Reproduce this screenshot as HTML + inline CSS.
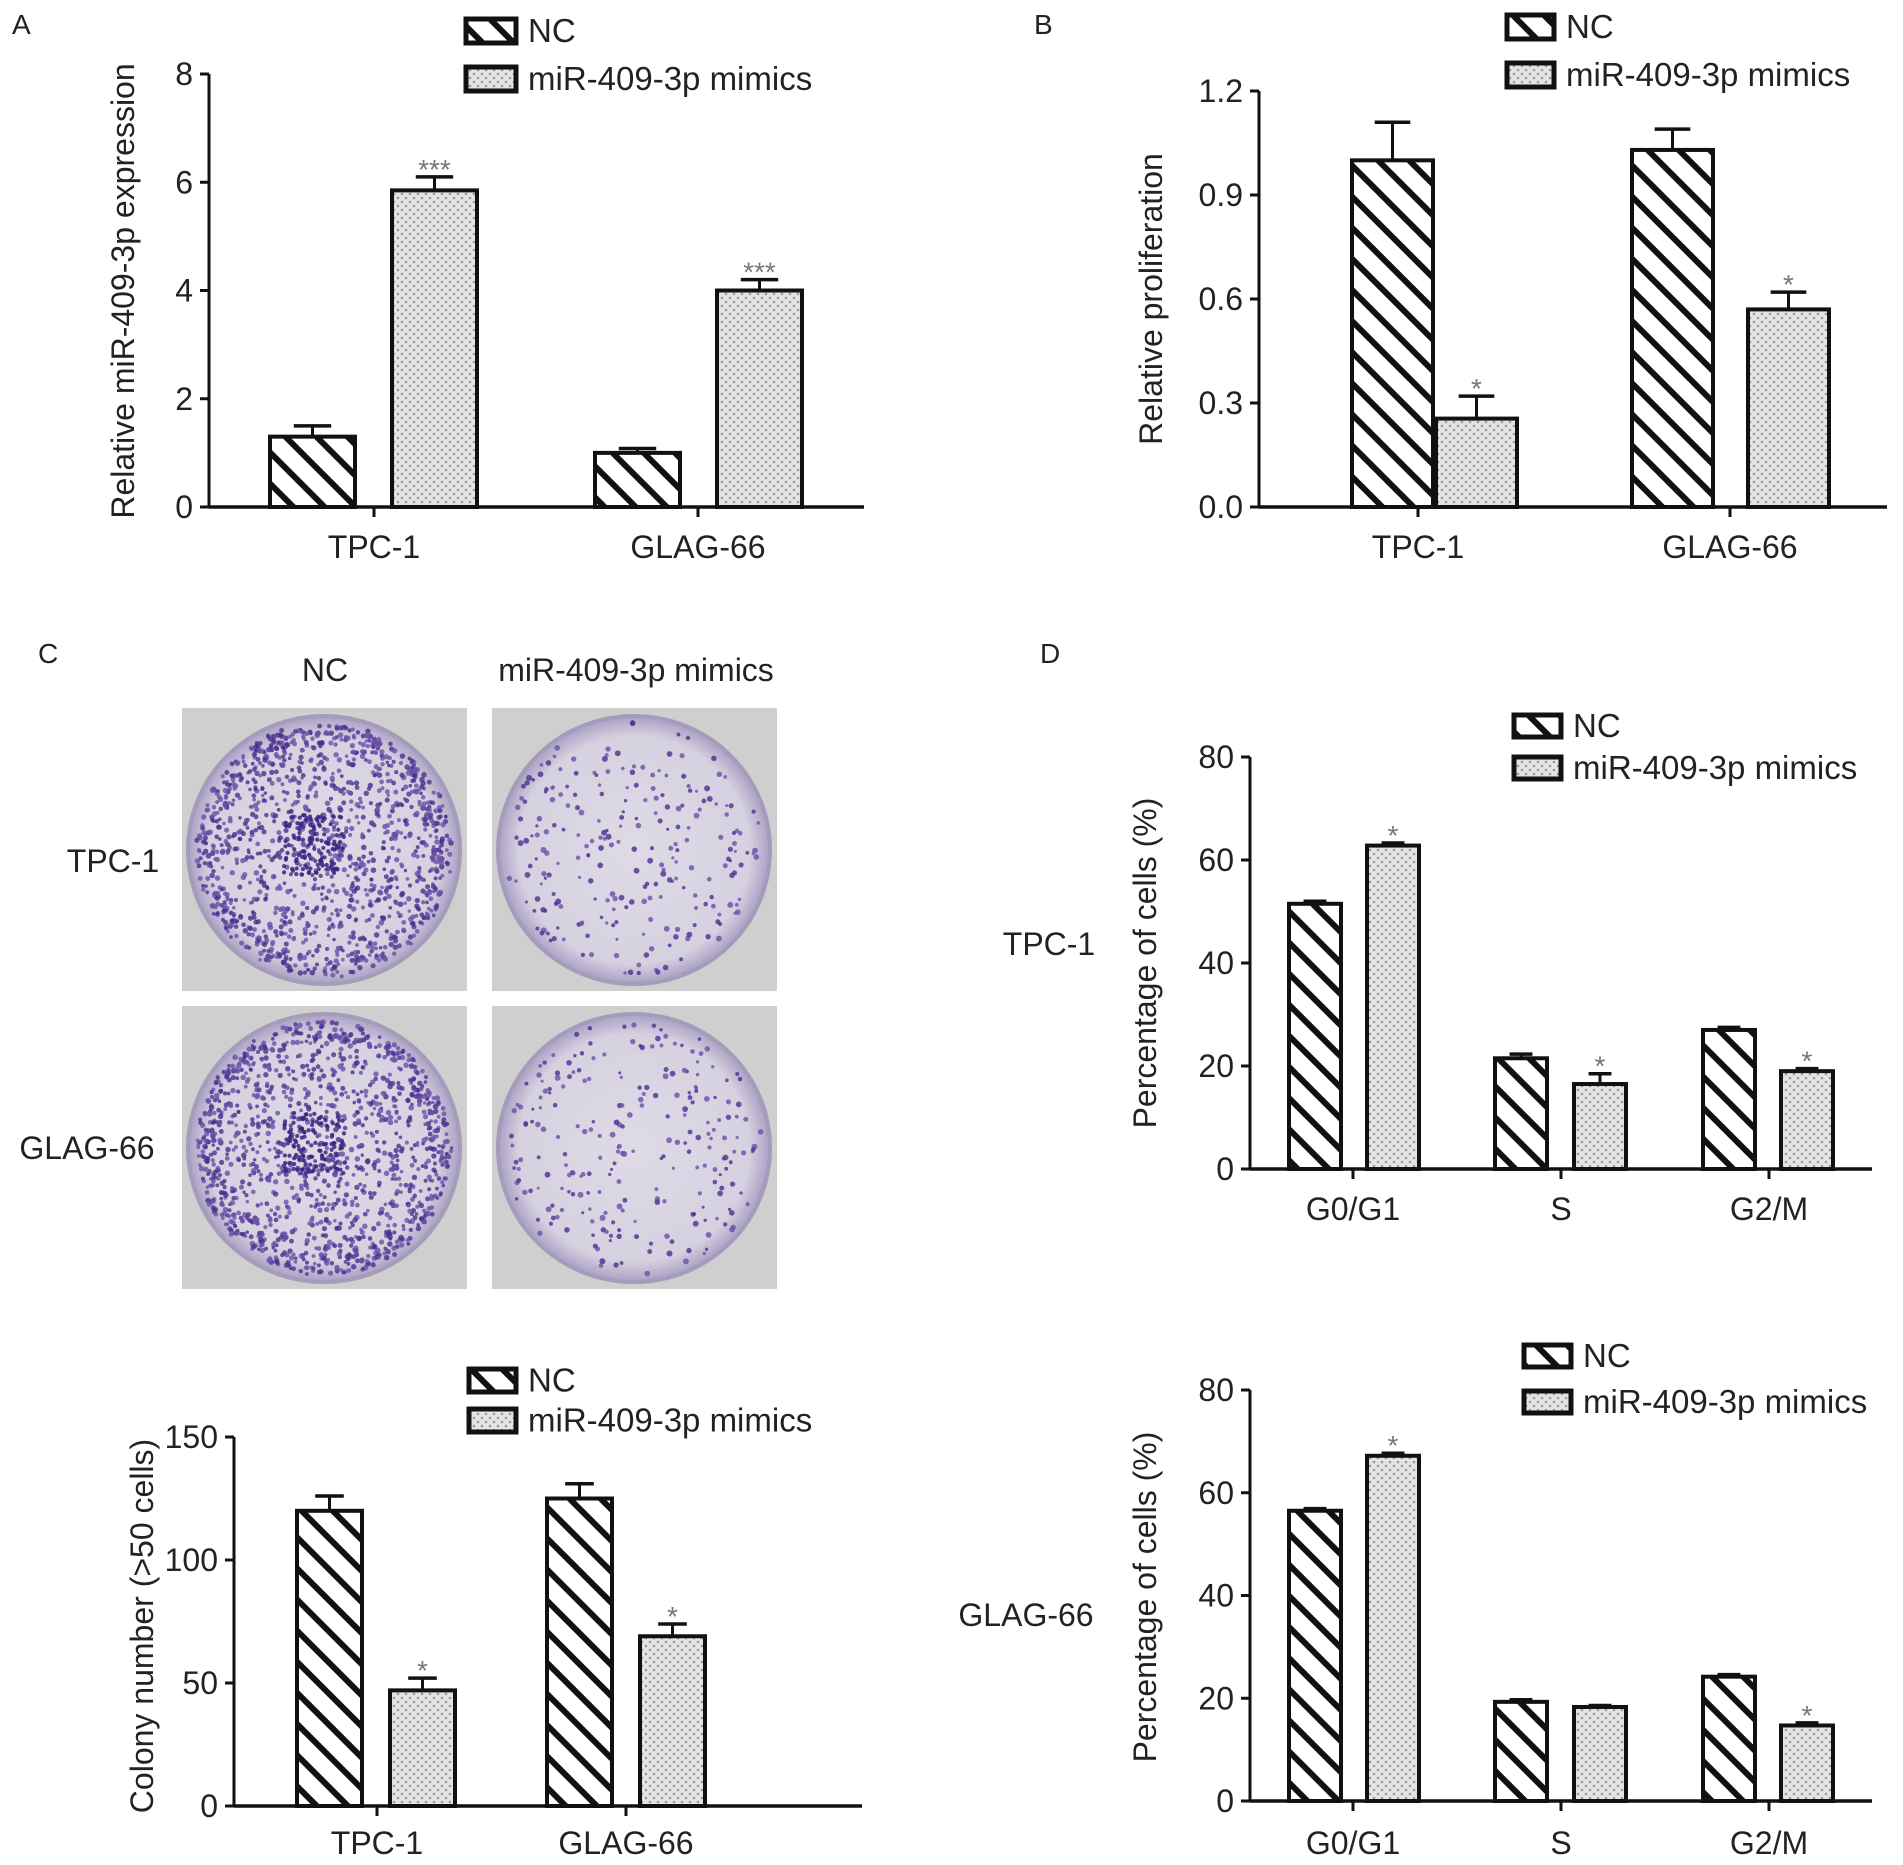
<!DOCTYPE html>
<html><head><meta charset="utf-8"><style>
html,body{margin:0;padding:0;background:#fff;}
svg{display:block;font-family:"Liberation Sans",Arial,sans-serif;}
</style></head><body>
<svg id="fig" width="1903" height="1865" viewBox="0 0 1903 1865" xmlns="http://www.w3.org/2000/svg">
<defs>
<pattern id="stripe" patternUnits="userSpaceOnUse" width="22" height="22" patternTransform="rotate(-45)">
<rect width="22" height="22" fill="#fff"/><rect x="0" y="0" width="6" height="22" fill="#111"/>
</pattern>
<pattern id="dots" patternUnits="userSpaceOnUse" width="8" height="8">
<rect width="8" height="8" fill="#e4e4e4"/><circle cx="2" cy="2" r="1.3" fill="#9a9a9a"/><circle cx="6" cy="6" r="1.3" fill="#9a9a9a"/>
</pattern>
<radialGradient id="plateg" cx="50%" cy="50%" r="50%"><stop offset="0%" stop-color="#dedbe6"/><stop offset="85%" stop-color="#d6d1e0"/><stop offset="100%" stop-color="#aaa0c4"/></radialGradient>
</defs>
<g id="root"></g>
</svg>
<script>
// ---- data ----
const catsAB = ["TPC-1","GLAG-66"];
const aNC = [1.3, 1.0], aNCerr = [0.2, 0.08];
const aMim = [5.85, 4.0], aMimErr = [0.25, 0.2];
const aTicks = [0,2,4,6,8];
const bNC = [1.0, 1.03], bNCerr = [0.11, 0.06];
const bMim = [0.255, 0.57], bMimErr = [0.065, 0.05];
const bTicks = ["0.0","0.3","0.6","0.9","1.2"];
const cNC = [120, 125], cNCerr = [6, 6];
const cMim = [47, 69], cMimErr = [5, 5];
const cTicks = [0,50,100,150];
const catsD = ["G0/G1","S","G2/M"];
const d1NC = [51.5, 21.5, 27], d1NCerr = [0.5, 0.8, 0.5];
const d1Mim = [62.8, 16.5, 19], d1MimErr = [0.5, 2, 0.5];
const d2NC = [56.5, 19.3, 24.2], d2NCerr = [0.4, 0.4, 0.4];
const d2Mim = [67.2, 18.3, 14.7], d2MimErr = [0.5, 0.3, 0.5];
const dTicks = [0,20,40,60,80];

const NS="http://www.w3.org/2000/svg";
const root=document.getElementById('root');
function mk(tag,attrs,parent,text){const e=document.createElementNS(NS,tag);for(const k in attrs)e.setAttribute(k,attrs[k]);if(text!==undefined)e.textContent=text;(parent||root).appendChild(e);return e;}
const FS=32;
function chart(o){
  const g=mk('g',{});
  
  
  const y=v=>o.y0-(v/o.max)*(o.y0-o.yTop);
  const ya=mk('line',{x1:o.ax,y1:o.yTop,x2:o.ax,y2:o.y0,stroke:'#111','stroke-width':3},g);
  
  const xa=mk('line',{x1:o.ax,y1:o.y0,x2:o.xEnd,y2:o.y0,stroke:'#111','stroke-width':3.5},g);
  
  o.ticks.forEach(t=>{const v=parseFloat(t);const yy=y(v);
    mk('line',{x1:o.ax-9,y1:yy,x2:o.ax,y2:yy,stroke:'#111','stroke-width':3},g);
    const tl=mk('text',{x:o.ax-16,y:yy+11,'text-anchor':'end','font-size':FS,fill:'#222'},g,String(t));
    
  });
  o.cats.forEach((c,i)=>{
    mk('line',{x1:o.tickX[i],y1:o.y0,x2:o.tickX[i],y2:o.y0+10,stroke:'#111','stroke-width':3},g);
    const tl=mk('text',{x:o.tickX[i],y:o.labY,'text-anchor':'middle','font-size':FS,fill:'#222'},g,c);
    
    [[o.nc,o.ncErr,o.ncX[i],'url(#stripe)','bar-nc',o.ncStar],[o.mim,o.mimErr,o.mimX[i],'url(#dots)','bar-mimics',o.mimStar]].forEach(([vals,errs,x0,fill,nm,stars])=>{
      const top=y(vals[i]), et=y(vals[i]+errs[i]), cx=x0+o.bw/2;
      const el=mk('line',{x1:cx,y1:et,x2:cx,y2:top,stroke:'#111','stroke-width':3},g);
      
      mk('line',{x1:cx-o.bw*0.22,y1:et,x2:cx+o.bw*0.22,y2:et,stroke:'#111','stroke-width':3.5},g);
      const r=mk('rect',{x:x0,y:top,width:o.bw,height:o.y0-top,fill:fill,stroke:'#111','stroke-width':4},g);
      
      
      if(stars&&stars[i]){const s=mk('text',{x:cx,y:et+2,'text-anchor':'middle','font-size':28,fill:'#777'},g,stars[i]);
        }
    });
  });
  const yt=mk('text',{x:o.ylx,y:o.yly,'text-anchor':'middle','font-size':FS,fill:'#222',transform:`rotate(-90 ${o.ylx} ${o.yly})`},g,o.ylabel);
  
  const lg=mk('g',{},g);
  [['url(#stripe)','NC',o.lg[1]],['url(#dots)','miR-409-3p mimics',o.lg[2]]].forEach(([f,t,ly])=>{
    const b=mk('rect',{x:o.lg[0],y:ly,width:o.lgw,height:o.lgh,fill:f,stroke:'#111','stroke-width':5},lg);
    
    const tt=mk('text',{x:o.lg[0]+o.lgw+12,y:ly+o.lgh/2+11,'font-size':33,fill:'#222'},lg,t);
    
  });
}

chart({name:'chart-a',ax:209,y0:507,yTop:74,max:8,xEnd:864,ticks:aTicks,cats:catsAB,tickX:[374,698],labY:558,
  nc:aNC,ncErr:aNCerr,mim:aMim,mimErr:aMimErr,ncX:[270,595],mimX:[392,717],bw:85,mimStar:['***','***'],
  ylabel:'Relative miR-409-3p expression',ylx:134,yly:291,lg:[466,19,67],lgw:50,lgh:24});
chart({name:'chart-b',ax:1259,y0:507,yTop:91,max:1.2,xEnd:1887,ticks:bTicks,cats:catsAB,tickX:[1418,1730],labY:558,
  nc:bNC,ncErr:bNCerr,mim:bMim,mimErr:bMimErr,ncX:[1352,1632],mimX:[1436,1748],bw:81,mimStar:['*','*'],
  ylabel:'Relative proliferation',ylx:1162,yly:299,lg:[1507,15,63],lgw:47,lgh:24});
chart({name:'chart-c-colonies',ax:234,y0:1806,yTop:1437,max:150,xEnd:862,ticks:cTicks,cats:catsAB,tickX:[377,626],labY:1854,
  nc:cNC,ncErr:cNCerr,mim:cMim,mimErr:cMimErr,ncX:[297,547],mimX:[390,640],bw:65,mimStar:['*','*'],
  ylabel:'Colony number (>50 cells)',ylx:153,yly:1626,lg:[469,1369,1409],lgw:47,lgh:23});
chart({name:'chart-d-tpc1',ax:1250,y0:1169,yTop:757,max:80,xEnd:1872,ticks:dTicks,cats:catsD,tickX:[1353,1561,1769],labY:1220,
  nc:d1NC,ncErr:d1NCerr,mim:d1Mim,mimErr:d1MimErr,ncX:[1289,1495,1703],mimX:[1367,1574,1781],bw:52,mimStar:['*','*','*'],
  ylabel:'Percentage of cells (%)',ylx:1156,yly:963,lg:[1514,715,757],lgw:47,lgh:22});
chart({name:'chart-d-glag66',ax:1250,y0:1801,yTop:1390,max:80,xEnd:1872,ticks:dTicks,cats:catsD,tickX:[1353,1561,1769],labY:1854,
  nc:d2NC,ncErr:d2NCerr,mim:d2Mim,mimErr:d2MimErr,ncX:[1289,1495,1703],mimX:[1367,1574,1781],bw:52,mimStar:['*','','*'],
  ylabel:'Percentage of cells (%)',ylx:1156,yly:1597,lg:[1524,1345,1391],lgw:47,lgh:22});

[['A',12,34],['B',1034,34],['C',38,663],['D',1040,663]].forEach(([t,x,yy])=>{
  const e=mk('text',{x:x,y:yy,'font-size':28,fill:'#222'},root,t);
  });
[['NC',325,681],['miR-409-3p mimics',636,681],['TPC-1',113,872],['GLAG-66',87,1159],['TPC-1',1049,955],['GLAG-66',1026,1626]].forEach(([t,x,yy])=>{
  const e=mk('text',{x:x,y:yy,'font-size':32,fill:'#222','text-anchor':'middle'},root,t);
  });

let seed=7;function rnd(){seed=(seed*16807)%2147483647;return seed/2147483647;}
function plate(x,yy,dense,name){
  const g=mk('g',{});
  mk('rect',{x:x,y:yy,width:285,height:283,fill:'#cfcfcf'},g);
  const cx=x+142,cy=yy+142,r=136;
  mk('ellipse',{cx:cx,cy:cy,rx:r,ry:r-2,fill:'url(#plateg)',stroke:'#a39cba','stroke-width':4},g);
  const n=dense?1300:240;
  for(let i=0;i<n;i++){let a=rnd()*6.283,d=Math.sqrt(rnd())*(r-8);
    if(dense&&rnd()<0.25){d=(r-30)+rnd()*20;}
    mk('circle',{cx:cx+Math.cos(a)*d,cy:cy+Math.sin(a)*d,r:dense?1.7+rnd()*1.1:1.5+rnd()*1.5,fill:rnd()<0.5?'#4a2f8f':'#6a4fa8','fill-opacity':0.8},g);}
  if(dense)for(let i=0;i<120;i++){mk('circle',{cx:cx-10+(rnd()-0.5)*60,cy:cy-5+(rnd()-0.5)*60,r:2.1,fill:'#3b2380','fill-opacity':0.85},g);}
}
plate(182,708,true,'plate-tpc1-nc');plate(492,708,false,'plate-tpc1-mimics');
plate(182,1006,true,'plate-glag66-nc');plate(492,1006,false,'plate-glag66-mimics');
</script>
</body></html>
